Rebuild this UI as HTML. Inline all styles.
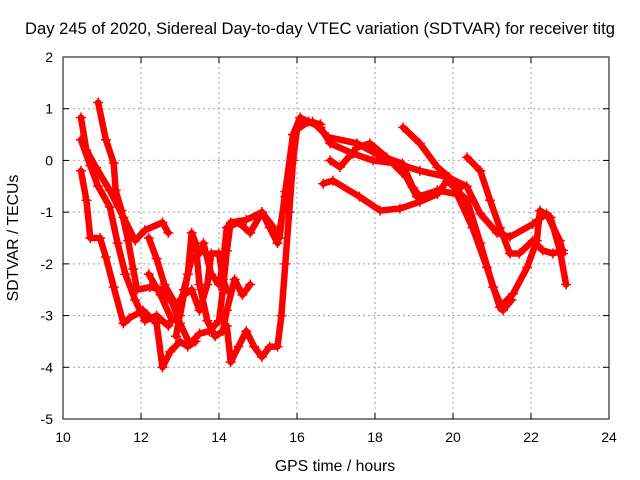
<!DOCTYPE html>
<html><head><meta charset="utf-8"><style>
html,body{margin:0;padding:0;background:#fff;}
svg{display:block;font-family:"Liberation Sans",sans-serif;}
</style></head><body>
<svg id="chart" width="640" height="480" viewBox="0 0 640 480" xmlns="http://www.w3.org/2000/svg">
<rect width="640" height="480" fill="#fff"/>
<text x="320" y="34" font-size="16.6" text-anchor="middle">Day 245 of 2020, Sidereal Day-to-day VTEC variation (SDTVAR) for receiver titg</text>
<g id="grid"></g><g id="axes"></g><g id="series"></g>
<text x="335" y="471" font-size="15.8" text-anchor="middle">GPS time / hours</text>
<text x="0" y="0" font-size="15.8" text-anchor="middle" transform="translate(18,238) rotate(-90)">SDTVAR / TECUs</text>
</svg>
<script>
const xTicks=[10,12,14,16,18,20,22,24];
const yTicks=[2,1,0,-1,-2,-3,-4,-5];
const t1h=[10.46,10.6,10.85,11.2,11.55,11.85,12.1,12.55,12.7];
const t1v=[0.83,0.2,-0.14,-0.58,-1.1,-1.55,-1.35,-1.2,-1.4];
const t2h=[10.9,11.1,11.3,11.35,11.5,11.67,11.8,11.9,12.23,12.55,12.8,13,13.25,13.5,13.75,14.0,14.1,14.2,14.3,14.7,15.1,15.4,15.55,15.7,15.9,16.08,16.6,16.85,17.44,17.95,18.56,19.15,19.85,20.35,20.7,21.13,21.46,22.05,22.4,22.74,22.82];
const t2v=[1.12,0.4,-0.05,-0.58,-0.97,-1.55,-2.1,-2.5,-2.45,-2.5,-2.75,-3.15,-3.55,-3.35,-3.3,-3.1,-2.5,-1.75,-1.2,-1.15,-1.0,-1.3,-1.5,-0.6,0.5,0.83,0.64,0.33,0.13,0,-0.06,-0.2,-0.32,-0.5,-1.03,-1.4,-1.48,-1.23,-1.03,-1.55,-1.8];
const t3h=[10.46,10.6,10.7,10.95,11.1,11.3,11.55,11.7,12.05,12.4,12.55,12.75,13.0,13.2,13.4];
const t3v=[-0.2,-0.77,-1.5,-1.5,-1.87,-2.45,-3.15,-3.05,-2.9,-3.15,-4.0,-3.7,-3.5,-3.6,-3.5];
const t4h=[10.46,10.7,10.9,11.2,11.4,11.6,11.85,12.1,12.4,12.7];
const t4v=[0.4,-0.1,-0.5,-0.9,-1.6,-2.2,-2.7,-3.1,-3.0,-3.2];
const m1h=[12.2,12.5,12.8,13.0,13.2,13.3,13.4,13.5,13.7,13.9,14.1,14.2,14.4,14.6,14.8];
const m1v=[-2.2,-2.6,-3.1,-3.0,-2.2,-1.4,-1.6,-2.4,-3.1,-3.4,-3.3,-2.9,-2.3,-2.6,-2.4];
const m2h=[12.2,12.4,12.6,12.9,13.1,13.3,13.5,13.7,13.8,14.0,14.1,14.2];
const m2v=[-1.5,-1.9,-2.4,-2.8,-2.6,-2.5,-2.9,-2.4,-1.8,-1.8,-2.3,-2.5];
const m3h=[12.9,13.1,13.3,13.5,13.6,13.8,14.0,14.1,14.2,14.5,14.8,15.1,15.3,15.5,15.7,15.9,16.1];
const m3v=[-3.4,-2.5,-1.9,-1.8,-1.6,-2.2,-2.4,-2.0,-1.3,-1.2,-1.4,-1.0,-1.3,-1.6,-0.7,0.5,0.8];
const bh=[14.2,14.3,14.5,14.7,14.9,15.1,15.3,15.5,15.6,15.7,15.8,15.9,16.0,16.3,16.6];
const bv=[-3.2,-3.9,-3.6,-3.3,-3.6,-3.8,-3.6,-3.6,-3.0,-2.0,-1.0,0.0,0.6,0.75,0.7];
const r1h=[16.4,16.8,17.54,18.1,18.7,18.97,19.15,19.6,20.1,20.5,20.87,21.2,21.54,21.9,22.15,22.23,22.5,22.74,22.9];
const r1v=[0.75,0.45,0.33,0.1,-0.06,-0.52,-0.7,-0.58,-0.65,-1.3,-2.07,-2.84,-2.58,-2.07,-1.55,-0.97,-1.1,-1.74,-2.4];
const r2h=[16.85,17.1,17.54,17.87,18.3,18.8,19.07,19.6];
const r2v=[0,-0.13,0.25,0.33,0.06,-0.32,-0.7,-0.6];
const r3h=[16.67,16.92,17.6,18.13,18.64,19.15,19.6,19.85,20.36,20.7,21.03,21.28,21.5];
const r3v=[-0.45,-0.39,-0.7,-0.97,-0.93,-0.8,-0.65,-0.39,-0.77,-1.6,-2.45,-2.9,-2.7];
const r4h=[18.72,19.15,19.6,19.9,20.2];
const r4v=[0.64,0.33,-0.13,-0.32,-0.52];
const r5h=[20.36,20.7,20.95,21.2,21.46,21.7,22.05,22.3,22.56,22.82];
const r5v=[0.06,-0.2,-0.77,-1.3,-1.8,-1.8,-1.55,-1.74,-1.8,-1.74];
const tracks=[[t1h,t1v],[t2h,t2v],[t3h,t3v],[t4h,t4v],[m1h,m1v],[m2h,m2v],[m3h,m3v],[bh,bv],[r1h,r1v],[r2h,r2v],[r3h,r3v],[r4h,r4v],[r5h,r5v]];

const X0=63,X1=609,Y0=57,Y1=419;
const xs=h=>X0+(h-10)/(24-10)*(X1-X0);
const ys=v=>Y0+(2-v)/(2-(-5))*(Y1-Y0);
const NS="http://www.w3.org/2000/svg";
function mk(tag,attrs,parent){const e=document.createElementNS(NS,tag);for(const k in attrs)e.setAttribute(k,attrs[k]);parent.appendChild(e);return e;}
const grid=document.getElementById('grid'),axes=document.getElementById('axes'),ser=document.getElementById('series');
xTicks.forEach(t=>{const x=xs(t);
 if(t>10&&t<24){const g=mk('line',{x1:x,x2:x,y1:Y0,y2:Y1,stroke:'#a0a0a0','stroke-dasharray':'2,3'},grid);
 
 }
 mk('line',{x1:x,x2:x,y1:Y1,y2:Y1-6,stroke:'#000'},axes);
 mk('line',{x1:x,x2:x,y1:Y0,y2:Y0+6,stroke:'#000'},axes);
 const l=mk('text',{x:x,y:Y1+23,'font-size':14,'text-anchor':'middle'},axes);l.textContent=t;
 
 
});
yTicks.forEach(t=>{const y=ys(t);
 if(t<2&&t>-5){const g=mk('line',{x1:X0,x2:X1,y1:y,y2:y,stroke:'#a0a0a0','stroke-dasharray':'2,3'},grid);
 
 }
 mk('line',{x1:X0,x2:X0+6,y1:y,y2:y,stroke:'#000'},axes);
 mk('line',{x1:X1,x2:X1-6,y1:y,y2:y,stroke:'#000'},axes);
 const l=mk('text',{x:X0-10,y:y+5,'font-size':14,'text-anchor':'end'},axes);l.textContent=t;
 
 
});
const fr=mk('rect',{x:X0,y:Y0,width:X1-X0,height:Y1-Y0,fill:'none',stroke:'#000'},axes);


tracks.forEach(([hs,vs],i)=>{
 const g=mk('g',{},ser);
 
 
 mk('polyline',{points:hs.map((h,j)=>xs(h)+','+ys(vs[j])).join(' '),fill:'none',stroke:'#f00','stroke-width':6.5,'stroke-linejoin':'round','stroke-linecap':'round'},g);
 hs.forEach((h,j)=>{const x=xs(h),y=ys(vs[j]);
  const p=mk('path',{d:`M${x-5},${y}H${x+5}M${x},${y-5}V${y+5}`,stroke:'#f00','stroke-width':1.5},g);
  
  
 });
});
</script>
</body></html>
